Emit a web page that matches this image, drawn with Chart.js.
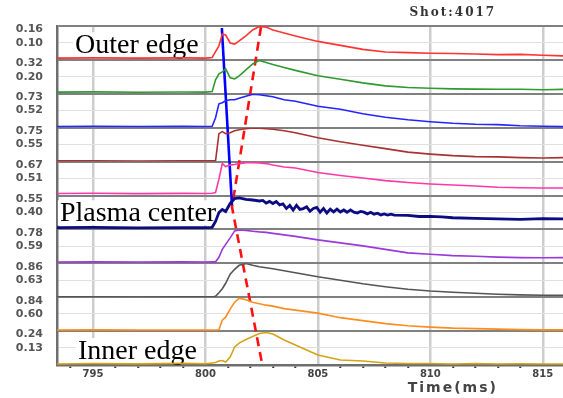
<!DOCTYPE html>
<html>
<head>
<meta charset="utf-8">
<script src="https://cdn.jsdelivr.net/npm/chart.js@4.4.1/dist/chart.umd.min.js"></script>
<style>
  html, body { margin: 0; padding: 0; background: #fff; }
  canvas { display: block; }
</style>
</head>
<body>
<canvas id="chart" width="563" height="398"></canvas>
<script>
// time axis (ms)
const time = [793.4, 795, 797, 799, 800, 800.3, 800.45, 800.6, 800.75, 800.9, 801.1, 801.3, 801.5, 801.8,
  802.1, 802.4, 802.7, 803, 803.5, 804, 805, 806, 807, 808, 809, 810, 811, 812, 813, 814, 815, 816];
const xTicks = [795, 800, 805, 810, 815];

// one trace per channel, outer edge (top) to inner edge (bottom)
const ch1 = [.030, .031, .030, .031, .030, .033, .060, .085, .140, .135, .099, .094, .108, .131, .158, .174,
  .171, .158, .144, .131, .106, .088, .070, .058, .055, .052, .051, .049, .046, .047, .043, .040];
const ch2 = [.060, .062, .059, .061, .060, .066, .171, .226, .244, .271, .189, .180, .208, .262, .316, .347,
  .329, .311, .284, .257, .208, .176, .144, .117, .102, .095, .090, .087, .086, .086, .081, .086];
const ch3 = [.268, .270, .267, .269, .268, .270, .406, .627, .643, .674, .690, .690, .714, .746, .777, .769,
  .753, .738, .690, .667, .588, .540, .469, .414, .374, .343, .319, .303, .296, .280, .272, .264];
const ch4 = [.302, .304, .301, .303, .302, .302, .302, .713, .743, .713, .728, .758, .773, .788, .798, .795,
  .788, .780, .758, .728, .652, .592, .539, .487, .434, .404, .381, .366, .362, .351, .346, .351];
const ch5 = [.327, .330, .326, .329, .327, .330, .339, .500, .688, .652, .670, .676, .688, .700, .700, .696,
  .688, .670, .646, .634, .580, .544, .514, .483, .459, .441, .429, .417, .403, .396, .393, .393];
// plasma center channel is noisy, so it has its own denser time base
const time6 = [793.4, 795, 797, 799, 800, 800.3, 800.45, 800.6, 800.75, 800.9, 801.1, 801.3, 801.5, 801.8,
  802.1, 802.4, 802.55, 802.7, 802.85, 803, 803.15, 803.3, 803.45, 803.6, 803.75, 803.9, 804.05, 804.2,
  804.35, 804.5, 804.65, 804.8, 804.95, 805.1, 805.25, 805.4, 805.55, 805.7, 805.85, 806, 806.15, 806.3,
  806.45, 806.6, 806.75, 806.9, 807.05, 807.2, 807.35, 807.5, 807.65, 807.8, 807.95, 808.1, 808.25, 808.4,
  809, 809.5, 810, 810.5, 811, 812, 813, 814, 815, 816];
const ch6 = [.225, .228, .224, .227, .226, .230, .296, .398, .432, .409, .500, .556, .562, .545, .539, .528,
  .534, .504, .523, .499, .521, .483, .495, .443, .478, .424, .479, .432, .442, .462, .412, .444, .455, .401,
  .444, .392, .436, .404, .435, .403, .426, .400, .427, .401, .392, .410, .401, .382, .400, .379, .390, .370,
  .381, .369, .378, .367, .364, .352, .353, .347, .338, .330, .325, .319, .327, .325];
const ch7 = [.363, .365, .362, .364, .363, .364, .365, .430, .544, .616, .709, .809, .823, .816, .804, .794,
  .787, .773, .751, .730, .680, .637, .594, .544, .494, .473, .454, .444, .433, .426, .423, .426];
const ch8 = [.338, .340, .337, .339, .338, .338, .350, .411, .480, .575, .731, .817, .886, .916, .886, .860,
  .843, .826, .791, .757, .687, .627, .566, .515, .471, .440, .419, .402, .385, .373, .367, .367];
const ch9 = [.310, .312, .309, .311, .310, .310, .310, .315, .488, .542, .687, .813, .885, .858, .813, .786,
  .759, .741, .696, .669, .615, .533, .479, .425, .386, .362, .344, .335, .326, .317, .313, .313];
const ch10 = [-.004, .000, -.003, .002, -.002, .005, .009, .021, .025, .013, .054, .137, .170, .199, .224, .249,
  .257, .245, .195, .154, .071, .029, .021, .005, .000, .000, -.004, .000, -.004, -.002, -.004, -.004];

const channels = [ch1, ch2, ch3, ch4, ch5, ch6, ch7, ch8, ch9, ch10];
const timeBase = [time, time, time, time, time, time6, time, time, time, time];
const colors = ['#ff3333', '#2f9a2f', '#2424ff', '#a83232', '#ff38a8', '#0c0c82', '#9a38dc', '#555555', '#ff8c1e', '#d2a418'];

// per-panel tick labels and axis ranges
const tickTop = [0.16, 0.32, 0.73, 0.75, 0.67, 0.55, 0.78, 0.86, 0.84, 0.24];
const tickMid = [0.10, 0.20, 0.52, 0.55, 0.51, 0.40, 0.59, 0.63, 0.60, 0.13];
const axisMin = [0.022, 0.045, 0.248, 0.291, 0.303, 0.206, 0.344, 0.333, 0.290, -0.012];
const axisMax = [0.176, 0.352, 0.785, 0.803, 0.712, 0.590, 0.830, 0.921, 0.903, 0.269];

// annotation lines (time, fraction of plot height)
const frontTime = [800.73, 801.18];
const frontLevel = [0.994, 0.472];
const peakTime = [802.47, 801.18, 802.53];
const peakLevel = [0.997, 0.466, 0.0];

const noteText = ['Outer edge', 'Plasma center', 'Inner edge'];
const noteTime = [794.2, 793.53, 794.33];
const noteLevel = [0.92, 0.424, 0.018];

const scales = {
  x: {
    type: 'linear',
    min: 793.4,
    max: 815.9,
    afterBuildTicks: (s) => {
      const t = [];
      for (let v = 794; v <= 815; v++) t.push({ value: v });
      s.ticks = t;
    },
    afterFit: (s) => { s.height = 33; },
    border: { color: '#6e6e6e', width: 2.5 },
    grid: {
      color: (c) => xTicks.includes(c.tick.value) ? '#cdcdcd' : 'rgba(0,0,0,0)',
      lineWidth: 2.5,
      tickLength: 3,
      tickColor: (c) => xTicks.includes(c.tick.value) ? 'rgba(0,0,0,0)' : '#333',
      tickWidth: 2
    },
    ticks: {
      autoSkip: false,
      maxRotation: 0,
      padding: 0,
      color: '#444',
      font: { family: 'DejaVu Sans', size: 10, weight: 'bold' },
      callback: (v) => xTicks.includes(v) ? String(v) : ''
    }
  },
  yAll: {
    type: 'linear',
    display: false,
    position: 'left',
    min: 0,
    max: 1
  }
};

// bottom panel first so that the top panel ends up on top of the stack
for (let i = channels.length - 1; i >= 0; i--) {
  const lo = axisMin[i], hi = axisMax[i], mid = tickMid[i], top = tickTop[i];
  scales['y' + i] = {
    type: 'linear',
    position: 'left',
    stack: 'panels',
    stackWeight: 1,
    min: lo,
    max: hi,
    afterBuildTicks: (s) => {
      const t = [{ value: lo }, { value: mid }, { value: top }];
      if (i === 0) t.push({ value: hi });
      s.ticks = t;
    },
    afterFit: (s) => { s.width = 57; },
    border: { color: '#6e6e6e', width: 2.5 },
    grid: {
      drawTicks: false,
      color: (c) => {
        const v = c.tick.value;
        if (v === lo || v === hi) return '#808080';
        if (v === mid) return '#e0e0e0';
        return 'rgba(0,0,0,0)';
      },
      lineWidth: (c) => (c.tick.value === lo || c.tick.value === hi) ? 2 : 1
    },
    ticks: {
      autoSkip: false,
      padding: 14,
      color: '#555',
      font: { family: 'DejaVu Sans', size: 11, weight: 'bold' },
      callback: (v) => (v === mid || v === top) ? v.toFixed(2) : ''
    }
  };
}

const datasets = channels.map((vals, i) => ({
  data: timeBase[i].map((t, k) => ({ x: t, y: vals[k] })),
  yAxisID: 'y' + i,
  borderColor: colors[i],
  borderWidth: i === 5 ? 2.8 : 1.6,
  pointRadius: 0,
  tension: 0
}));

datasets.push({
  data: frontTime.map((t, k) => ({ x: t, y: frontLevel[k] })),
  yAxisID: 'yAll',
  borderColor: '#0000ff',
  borderWidth: 2.6,
  pointRadius: 0
});
datasets.push({
  data: peakTime.map((t, k) => ({ x: t, y: peakLevel[k] })),
  yAxisID: 'yAll',
  borderColor: '#ff1010',
  borderWidth: 2.6,
  borderDash: [9, 6],
  pointRadius: 0
});

const notes = {
  id: 'notes',
  beforeDatasetsDraw(chart) {
    const ctx = chart.ctx;
    const xs = chart.scales.x, ys = chart.scales.yAll;
    ctx.save();
    ctx.font = '28px "Liberation Serif"';
    ctx.textBaseline = 'alphabetic';
    ctx.textAlign = 'left';
    noteText.forEach((txt, i) => {
      const x = xs.getPixelForValue(noteTime[i]);
      const y = ys.getPixelForValue(noteLevel[i]);
      const w = ctx.measureText(txt).width;
      ctx.fillStyle = '#fff';
      ctx.fillRect(x - 2, y - 21, w + 4, 25);
      ctx.fillStyle = '#000';
      ctx.fillText(txt, x, y);
    });
    ctx.restore();
  },
  afterDraw(chart) {
    const ctx = chart.ctx;
    const cx = chart.scales.x.getPixelForValue(811);
    ctx.save();
    ctx.textAlign = 'center';
    ctx.textBaseline = 'middle';
    ctx.letterSpacing = '2px';
    ctx.fillStyle = '#333';
    ctx.font = 'bold 12px "DejaVu Serif"';
    ctx.fillText('Shot:4017', cx, 13);
    ctx.fillStyle = '#444';
    ctx.font = 'bold 14px "DejaVu Sans"';
    ctx.fillText('Time(ms)', cx, 388);
    ctx.restore();
  }
};

new Chart(document.getElementById('chart'), {
  type: 'line',
  data: { datasets },
  options: {
    responsive: false,
    devicePixelRatio: 1,
    animation: false,
    layout: { padding: { top: 26, right: 0, bottom: 0, left: 0 } },
    plugins: { legend: { display: false }, tooltip: { enabled: false } },
    scales
  },
  plugins: [notes]
});
</script>
</body>
</html>
